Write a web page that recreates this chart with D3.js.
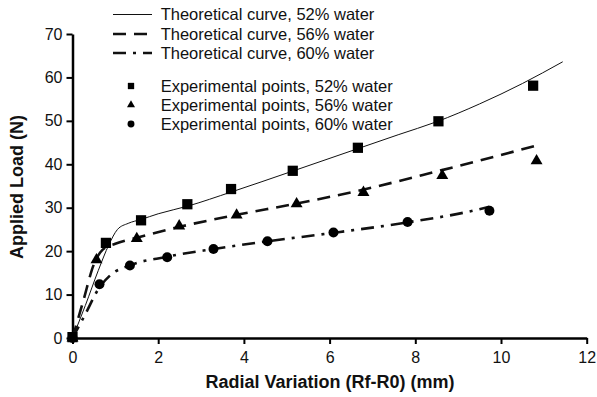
<!DOCTYPE html>
<html>
<head>
<meta charset="utf-8">
<script src="https://cdn.jsdelivr.net/npm/d3@7.9.0/dist/d3.min.js"></script>
<style>
  body { margin: 0; background: #fff; }
  svg { display: block; font-family: Arial, "Liberation Sans", sans-serif; }
</style>
</head>
<body>
<svg id="chart" width="597" height="397"></svg>
<script>
// experimental points (x = radial variation mm, y = load N)
const exp52x = [0, 0.78, 1.6, 2.68, 3.7, 5.14, 6.66, 8.54, 10.75];
const exp52y = [0.2, 21.9, 27.1, 30.8, 34.3, 38.5, 43.8, 49.9, 58.1];
const exp56x = [0, 0.56, 1.5, 2.49, 3.83, 5.23, 6.79, 8.63, 10.83];
const exp56y = [0, 18.0, 22.9, 25.8, 28.3, 30.9, 33.5, 37.4, 40.8];
const exp60x = [0, 0.63, 1.34, 2.21, 3.29, 4.55, 6.09, 7.82, 9.73];
const exp60y = [0, 12.4, 16.7, 18.6, 20.5, 22.3, 24.3, 26.7, 29.3];

// theoretical curves
const th52x = [0, 0.3, 0.6, 0.85, 1.05, 1.3, 1.6, 2.0, 2.7, 3.7, 5.1, 6.6, 7.6, 8.5, 9.5, 10.5, 11.44];
const th52y = [0, 7.5, 15.5, 21.5, 25.0, 26.4, 27.3, 28.6, 30.4, 33.6, 38.3, 43.4, 46.8, 49.8, 53.9, 58.6, 63.6];
const th56x = [0, 0.25, 0.5, 0.7, 1.0, 1.5, 2.5, 3.8, 5.2, 6.8, 8.6, 10.83];
const th56y = [0, 8.5, 17.0, 20.3, 21.7, 23.1, 25.6, 28.3, 30.9, 34.2, 38.6, 44.3];
const th60x = [0, 0.3, 0.6, 0.9, 1.3, 2.2, 3.3, 4.5, 6.0, 7.8, 9.2, 9.73];
const th60y = [0, 5.5, 11.2, 14.6, 16.6, 18.7, 20.5, 22.2, 24.1, 26.6, 29.0, 30.2];

const xTicks = [0, 2, 4, 6, 8, 10, 12];
const yTicks = [0, 10, 20, 30, 40, 50, 60, 70];
const legendLabels = [
  "Theoretical curve, 52% water",
  "Theoretical curve, 56% water",
  "Theoretical curve, 60% water",
  "Experimental points, 52% water",
  "Experimental points, 56% water",
  "Experimental points, 60% water"
];

const zip = (xs, ys) => xs.map((x, i) => [x, ys[i]]);

const svg = d3.select("#chart");
const x = d3.scaleLinear().domain([0, 12]).range([72.5, 586.7]);
const y = d3.scaleLinear().domain([0, 70]).range([338, 34]);

// axes
const xAxis = svg.append("g")
  .attr("transform", `translate(0,${y(0)})`)
  .call(d3.axisBottom(x).tickValues(xTicks).tickSize(6).tickPadding(8).tickSizeOuter(0));
const yAxis = svg.append("g")
  .attr("transform", `translate(${x(0)},0)`)
  .call(d3.axisLeft(y).tickValues(yTicks).tickSize(6).tickPadding(4).tickSizeOuter(0));

[xAxis, yAxis].forEach(a => {
  a.select(".domain").attr("stroke", "#000").attr("stroke-width", 2.5);
  a.selectAll(".tick line").attr("stroke", "#000").attr("stroke-width", 2);
  a.selectAll(".tick text")
    .attr("fill", "#111")
    .style("font-size", "16px")
    .style("font-family", "Arial, 'Liberation Sans', sans-serif");
});

svg.append("text")
  .attr("x", 330).attr("y", 388)
  .attr("text-anchor", "middle")
  .style("font-size", "18px").style("font-weight", "bold").attr("fill", "#111")
  .text("Radial Variation (Rf-R0) (mm)");

svg.append("text")
  .attr("transform", "translate(23,187) rotate(-90)")
  .attr("text-anchor", "middle")
  .style("font-size", "18px").style("font-weight", "bold").attr("fill", "#111")
  .text("Applied Load (N)");

// curves
const line = d3.line().x(d => x(d[0])).y(d => y(d[1])).curve(d3.curveMonotoneX);
const curveStyles = [
  { width: 1, dash: null },
  { width: 2.6, dash: "13,8" },
  { width: 2.6, dash: "13,7,3,7" }
];
const curves = [zip(th52x, th52y), zip(th56x, th56y), zip(th60x, th60y)];
curves.forEach((c, i) => {
  svg.append("path")
    .attr("d", line(c))
    .attr("fill", "none")
    .attr("stroke", "#111")
    .attr("stroke-width", curveStyles[i].width)
    .attr("stroke-dasharray", curveStyles[i].dash);
});

// markers
const symbols = [d3.symbolSquare, d3.symbolTriangle, d3.symbolCircle];
const symSizes = [105, 62, 78];
const legSizes = [40, 28, 38];
const points = [zip(exp52x, exp52y), zip(exp56x, exp56y), zip(exp60x, exp60y)];
points.forEach((pts, i) => {
  svg.append("g").selectAll("path")
    .data(pts)
    .join("path")
    .attr("transform", d => `translate(${x(d[0])},${y(d[1])})`)
    .attr("d", d3.symbol(symbols[i], symSizes[i]))
    .attr("fill", "#000");
});

// legend
const legendRowsY = [14.5, 34, 53, 86, 105, 124];
const leg = svg.append("g");
legendLabels.forEach((lab, i) => {
  const ly = legendRowsY[i];
  if (i < 3) {
    leg.append("line")
      .attr("x1", 113).attr("x2", 152).attr("y1", ly).attr("y2", ly)
      .attr("stroke", "#111")
      .attr("stroke-width", curveStyles[i].width)
      .attr("stroke-dasharray", curveStyles[i].dash);
  } else {
    leg.append("path")
      .attr("transform", `translate(131,${ly})`)
      .attr("d", d3.symbol(symbols[i - 3], legSizes[i - 3])())
      .attr("fill", "#000");
  }
  leg.append("text")
    .attr("x", 160.7).attr("y", ly).attr("dy", "0.35em")
    .style("font-size", "16.5px").attr("fill", "#111")
    .text(lab);
});
</script>
</body>
</html>
